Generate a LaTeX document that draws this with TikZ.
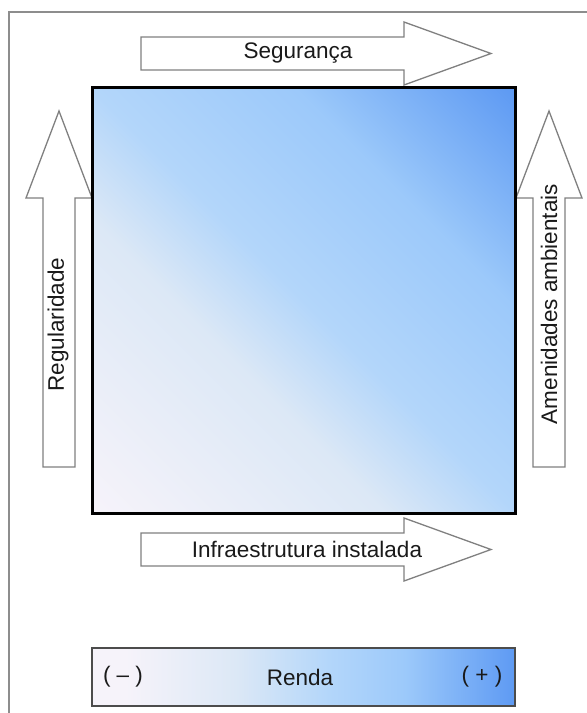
\documentclass[tikz,border=0pt]{standalone}
\usepackage{fontspec}
\setmainfont{Liberation Sans}
\definecolor{corborda}{HTML}{808080}
\definecolor{corclaro}{HTML}{F6F3FA}
\definecolor{corpalido}{HTML}{DCE8F6}
\definecolor{cormedio}{HTML}{B3D6FA}
\definecolor{corazul}{HTML}{9CC9FA}
\definecolor{corforte}{HTML}{5E9AF3}
\definecolor{cortexto}{HTML}{1A1A1A}
\pgfdeclarehorizontalshading{degrquadro}{100bp}{color(0bp)=(corclaro); color(15bp)=(corclaro); color(39bp)=(corpalido); color(50bp)=(cormedio); color(67bp)=(corazul); color(85bp)=(corforte); color(100bp)=(corforte)}
\pgfdeclarehorizontalshading{degrbarra}{100bp}{color(0bp)=(corclaro); color(29bp)=(corclaro); color(42bp)=(corpalido); color(53bp)=(cormedio); color(62bp)=(corazul); color(75bp)=(corforte); color(100bp)=(corforte)}
\newcommand{\setahorz}[1]{\draw[seta] (141,#1-16.5) -- (404,#1-16.5) -- (404,#1-31.5) -- (491,#1) -- (404,#1+31.5) -- (404,#1+16.5) -- (141,#1+16.5) -- cycle;}
\newcommand{\setavert}[1]{\draw[seta] (#1-16,467) -- (#1-16,198) -- (#1-33,198) -- (#1,111) -- (#1+33,198) -- (#1+16,198) -- (#1+16,467) -- cycle;}
\tikzset{
		seta/.style={draw=corborda, fill=white, line width=1.3pt, line join=miter},
		rotulo/.style={text=cortexto, font=\fontsize{22.5}{26}\selectfont, inner sep=0pt},
		quadro/.style={draw=black, line width=3pt},
		barra/.style={draw=black!70, line width=1.3pt},
		moldura/.style={draw=corborda!90, line width=1.3pt}
	}
\begin{document}
\begin{tikzpicture}[x=1pt, y=-1pt]
		\clip (0,0) rectangle (587,713);
		\fill[white] (0,0) rectangle (587,713);
		\draw[moldura] (9,12) rectangle (620,740);
		
		% setas
		\setahorz{53.5}
		\setahorz{549.5}
		\setavert{59}
		\setavert{549}
		
		% quadro
		\shade[shading=degrquadro, shading angle=45] (92,87) rectangle (515,513);
		\draw[quadro] (92,87) rectangle (515,513);
		
		% barra de renda
		\shade[shading=degrbarra] (92,648) rectangle (515,706);
		\draw[barra] (92,648) rectangle (515,706);
		
		% rotulos
		\node[rotulo] (seguranca) at (298,53.5) {Segurança};
		\node[rotulo] (infraestr) at (307,549.5) {Infraestrutura instalada};
		\node[rotulo, rotate=90] (regulari) at (58,324.5) {Regularidade};
		\node[rotulo, rotate=90] (amenidad) at (549,304) {Amenidades ambientais};
		\node[rotulo] (renda) at (300,677) {Renda};
		\node[rotulo] (menos) at (123,677) {( – )};
		\node[rotulo] (mais) at (482,677) {( + )};
	\end{tikzpicture}
\end{document}
